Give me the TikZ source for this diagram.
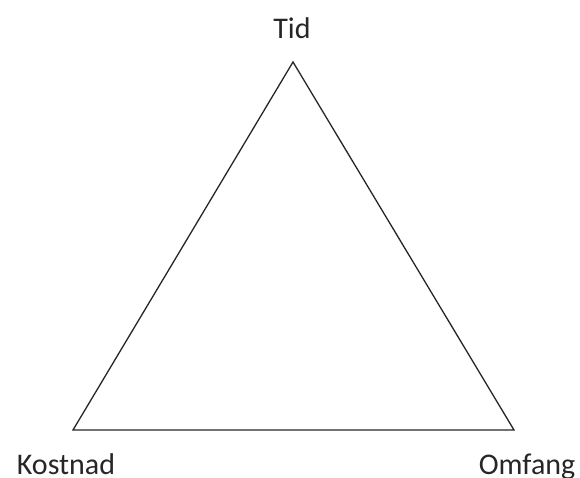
\documentclass[tikz,border=0pt]{standalone}
\usepackage{fontspec}
\setmainfont{Carlito}
\begin{document}
\begin{tikzpicture}[x=1pt,y=-1pt,
  lbl/.style={font=\fontsize{30}{36}\selectfont, text=black!85, inner sep=0pt, anchor=base},
  edge/.style={draw=black!85, line width=1.3pt, line join=miter}]
\useasboundingbox (0,0) rectangle (580,477);
\coordinate (top) at (293,62);
\coordinate (bl) at (73,430);
\coordinate (br) at (514,430);
\draw[edge] (top) -- (bl) -- (br) -- cycle;
\node[lbl] (tid) at (292,38) {Tid};
\node[lbl] (kost) at (66,474) {Kostnad};
\node[lbl] (omf) at (527,474) {Omfang};
\end{tikzpicture}
\end{document}
